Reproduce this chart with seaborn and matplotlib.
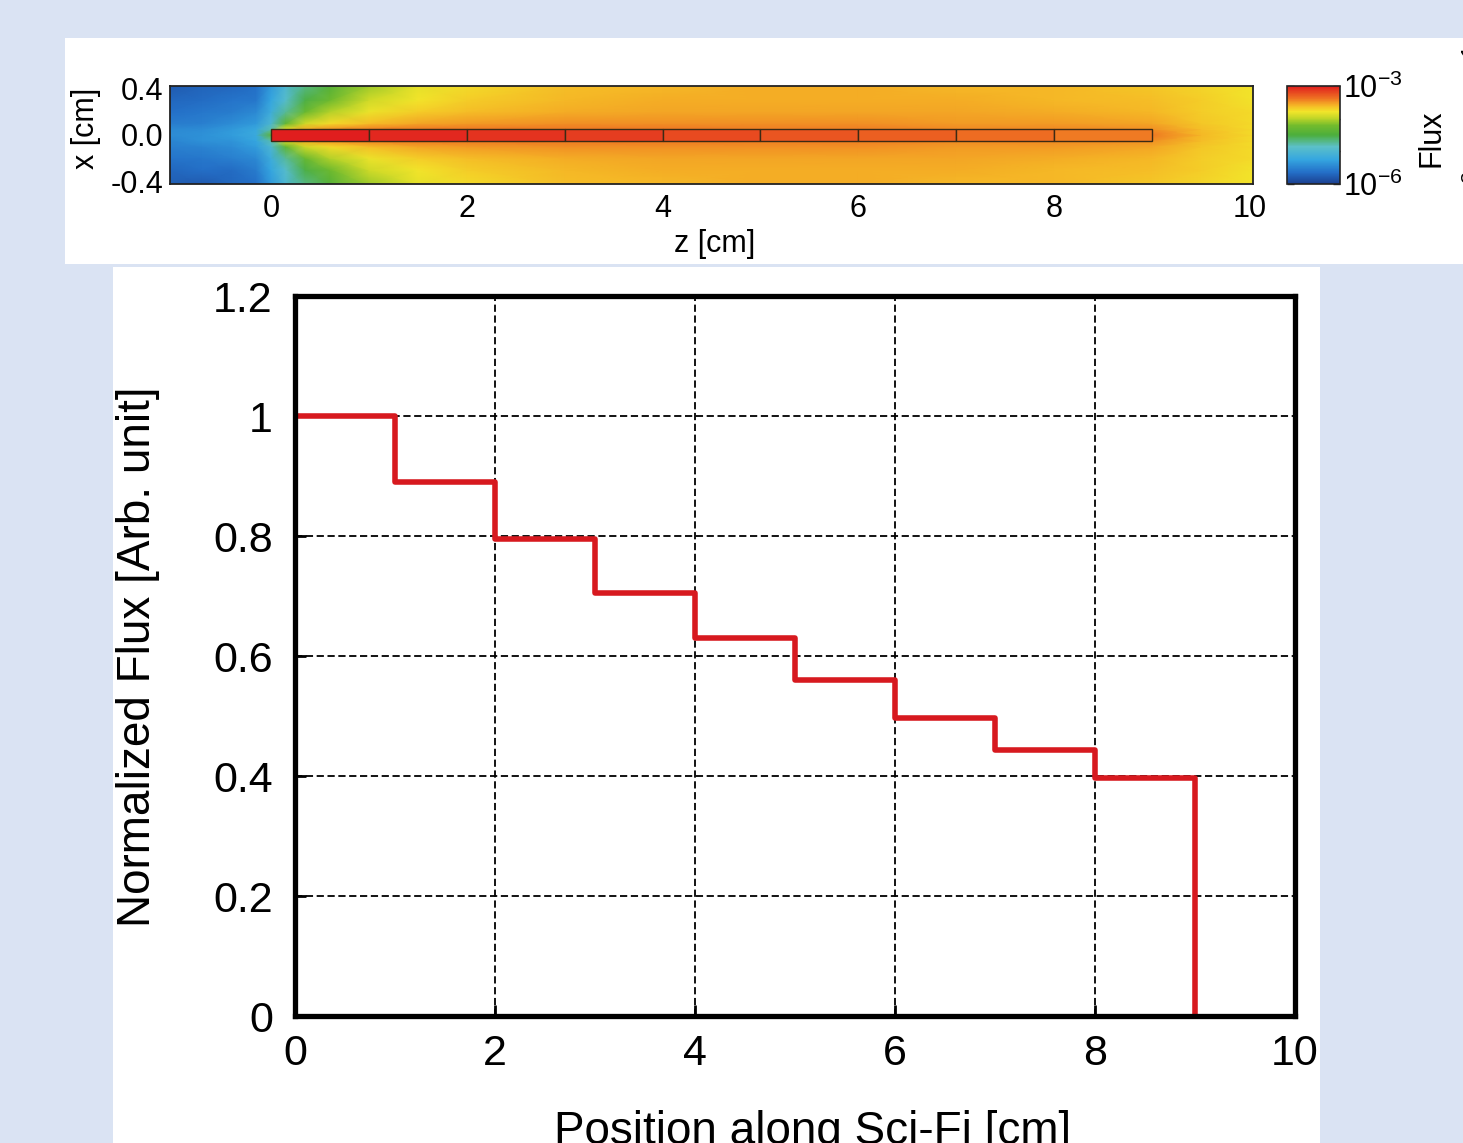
import numpy as np
import matplotlib
matplotlib.use("Agg")
import matplotlib.pyplot as plt
from matplotlib.colors import LinearSegmentedColormap, LogNorm
from matplotlib.patches import Rectangle
import seaborn as sns

# ---------------- data ----------------
# lower panel: normalized flux per 1-cm fiber segment (last value = end of fiber)
seg_pos = [0, 1, 2, 3, 4, 5, 6, 7, 8, 9]
seg_flux = [1.0, 0.89, 0.795, 0.705, 0.63, 0.56, 0.497, 0.443, 0.397, 0.0]
x_ticks = [0, 2, 4, 6, 8, 10]
y_ticks = [0, 0.2, 0.4, 0.6, 0.8, 1.0, 1.2]
y_tick_labels = ["0", "0.2", "0.4", "0.6", "0.8", "1", "1.2"]

# upper panel: flux map, position on colour scale (0 -> 1e-6, 1 -> 1e-3)
map_z = [-1.05, -0.7, -0.4, -0.15, 0.0, 0.15, 0.35, 0.6, 1.0, 1.5, 2, 3, 4, 5, 6, 7, 8, 9, 9.5, 10.05]
map_x = [-0.42, -0.3, -0.2, -0.1, -0.05, 0.0, 0.05, 0.1, 0.2, 0.3, 0.42]
map_level = [
    [0.08, 0.07, 0.10, 0.12, 0.22, 0.33, 0.44, 0.52, 0.64, 0.72, 0.75, 0.79, 0.80, 0.81, 0.81, 0.80, 0.80, 0.78, 0.76, 0.74],
    [0.10, 0.12, 0.11, 0.15, 0.25, 0.36, 0.49, 0.58, 0.69, 0.74, 0.77, 0.80, 0.81, 0.81, 0.81, 0.81, 0.80, 0.79, 0.77, 0.74],
    [0.13, 0.14, 0.16, 0.18, 0.28, 0.42, 0.57, 0.66, 0.73, 0.77, 0.79, 0.81, 0.82, 0.82, 0.82, 0.82, 0.81, 0.80, 0.77, 0.75],
    [0.16, 0.17, 0.19, 0.23, 0.33, 0.55, 0.69, 0.75, 0.79, 0.82, 0.83, 0.84, 0.84, 0.84, 0.84, 0.83, 0.83, 0.82, 0.78, 0.75],
    [0.17, 0.20, 0.21, 0.25, 0.40, 0.72, 0.81, 0.84, 0.86, 0.87, 0.87, 0.87, 0.87, 0.86, 0.86, 0.85, 0.85, 0.84, 0.79, 0.75],
    [0.19, 0.20, 0.23, 0.27, 0.55, 0.90, 0.93, 0.94, 0.95, 0.95, 0.94, 0.93, 0.92, 0.91, 0.90, 0.89, 0.88, 0.87, 0.80, 0.75],
    [0.18, 0.19, 0.22, 0.26, 0.40, 0.72, 0.81, 0.84, 0.86, 0.87, 0.87, 0.87, 0.87, 0.86, 0.86, 0.85, 0.85, 0.84, 0.79, 0.75],
    [0.15, 0.16, 0.19, 0.22, 0.33, 0.55, 0.69, 0.75, 0.79, 0.82, 0.83, 0.84, 0.84, 0.84, 0.84, 0.83, 0.83, 0.82, 0.78, 0.75],
    [0.12, 0.14, 0.15, 0.18, 0.28, 0.42, 0.57, 0.66, 0.73, 0.77, 0.79, 0.81, 0.82, 0.82, 0.82, 0.82, 0.81, 0.80, 0.77, 0.75],
    [0.10, 0.11, 0.13, 0.14, 0.25, 0.36, 0.49, 0.58, 0.69, 0.74, 0.77, 0.80, 0.81, 0.81, 0.81, 0.81, 0.80, 0.79, 0.77, 0.74],
    [0.07, 0.09, 0.10, 0.12, 0.22, 0.33, 0.44, 0.52, 0.64, 0.72, 0.75, 0.79, 0.80, 0.81, 0.81, 0.80, 0.80, 0.78, 0.76, 0.74],
]
fiber_half_width = 0.05
flux_max = 1e-3
flux_min = 1e-6

# ---------------- style ----------------
sns.set_theme(style="white")
plt.rcParams["font.family"] = ["Liberation Sans", "DejaVu Sans"]
plt.rcParams["mathtext.fontset"] = "custom"
plt.rcParams["mathtext.rm"] = "Liberation Sans"
plt.rcParams["mathtext.it"] = "Liberation Sans:italic"
plt.rcParams["mathtext.bf"] = "Liberation Sans:bold"
plt.rcParams["axes.unicode_minus"] = False
plt.rcParams["text.color"] = "black"
plt.rcParams["xtick.color"] = "black"
plt.rcParams["ytick.color"] = "black"
plt.rcParams["axes.labelcolor"] = "black"

W, H = 1463, 1143
fig = plt.figure(figsize=(W / 100, H / 100), dpi=100)
fig.patch.set_facecolor("#dae3f3")

def fx(px):
    return px / W

def fy(py):
    return 1 - py / H

# white panels (behind the axes)
fig.patches.append(Rectangle((fx(65), fy(264)), fx(1463 - 65), (264 - 38) / H,
                             transform=fig.transFigure, facecolor="white", edgecolor="none", zorder=-5))
fig.patches.append(Rectangle((fx(113), fy(1143)), fx(1320 - 113), (1143 - 267) / H,
                             transform=fig.transFigure, facecolor="white", edgecolor="none", zorder=-5))

# ---------------- top: flux map ----------------
cmap = LinearSegmentedColormap.from_list("flux", [
    (0.00, "#1b3f8f"), (0.12, "#2470c8"), (0.25, "#35a6e0"), (0.38, "#5cc0c8"),
    (0.50, "#4cae3c"), (0.60, "#74bc2c"), (0.68, "#c8d828"), (0.74, "#f2e52a"),
    (0.80, "#f5b826"), (0.88, "#ee6e22"), (1.00, "#e01e1e")])
norm = LogNorm(vmin=flux_min, vmax=flux_max)

ax_map = fig.add_axes([fx(170), fy(184), fx(1253 - 170), (184 - 86) / H])
Z, X = np.meshgrid(map_z, map_x)
field = flux_min * (flux_max / flux_min) ** np.array(map_level)
mesh = ax_map.pcolormesh(Z, X, field, shading="gouraud", cmap=cmap, norm=norm, rasterized=True)
for z0, v in zip(seg_pos[:-1], seg_flux[:-1]):
    ax_map.add_patch(Rectangle((z0, -fiber_half_width), 1, 2 * fiber_half_width,
                               facecolor=cmap(norm(v * flux_max)), edgecolor="#3b2a14", linewidth=1.0, zorder=3))
ax_map.set_xlim(-1.03, 10.03)
ax_map.set_ylim(-0.42, 0.42)
ax_map.set_xticks(range(0, 11))
ax_map.set_xticklabels([str(t) if t % 2 == 0 else "" for t in range(0, 11)])
ax_map.set_yticks([-0.4, 0.0, 0.4])
ax_map.set_yticklabels(["-0.4", "0.0", "0.4"])
ax_map.set_yticks(np.arange(-0.4, 0.41, 0.1), minor=True)
ax_map.tick_params(axis="both", which="both", direction="in", top=True, right=True,
                   length=6, width=1.3, color="#222222", labelsize=22)
ax_map.tick_params(axis="x", pad=7)
ax_map.tick_params(axis="y", pad=5)
for s in ax_map.spines.values():
    s.set_color("#222222")
    s.set_linewidth(1.3)
fig.text(fx(715), fy(244), "z [cm]", ha="center", va="center", fontsize=22)
fig.text(fx(86), fy(128), "x [cm]", ha="center", va="center", rotation=90, fontsize=22)

# colorbar
cax = fig.add_axes([fx(1287), fy(184), fx(1340 - 1287), (184 - 86) / H])
cb = fig.colorbar(mesh, cax=cax)
cb.set_ticks([1e-6, 1e-5, 1e-4, 1e-3])
cb.set_ticklabels(["10$^{-6}$", "", "", "10$^{-3}$"])
cb.minorticks_off()
cax.tick_params(which="both", direction="in", left=True, right=True, length=5, width=1.0,
                color="#333333", labelsize=22, pad=2)
cb.outline.set_linewidth(1.2)
cb.outline.set_edgecolor("#222222")
fig.text(fx(1431), fy(138), "Flux", ha="center", va="center", rotation=90, fontsize=22)
fig.text(fx(1489), fy(245), "[cm$^{-2}$ source$^{-1}$]", rotation=90, rotation_mode="anchor",
         ha="left", va="baseline", fontsize=22)

# ---------------- bottom: step profile ----------------
ax = fig.add_axes([fx(295), fy(1016), fx(1000), (1016 - 296) / H])
ax.set_facecolor("white")
ax.set_axisbelow(True)
ax.grid(True, color="black", linestyle=(0, (4, 2)), linewidth=1.3)
sns.lineplot(x=seg_pos, y=seg_flux, drawstyle="steps-post", color="#d7191f",
             linewidth=4, ax=ax, zorder=3)
ax.set_xlim(0, 10)
ax.set_ylim(0, 1.2)
ax.set_xticks(x_ticks)
ax.set_yticks(y_ticks)
ax.set_yticklabels(y_tick_labels)
ax.tick_params(axis="both", direction="in", length=8, width=2, color="black",
               labelsize=31, bottom=True, left=True, top=False, right=False)
ax.tick_params(axis="x", pad=13)
ax.tick_params(axis="y", pad=16)
for s in ax.spines.values():
    s.set_color("black")
    s.set_linewidth(3.8)
    s.set_zorder(4)
ax.set_xlabel("")
ax.set_ylabel("")
fig.text(fx(138), fy(657), "Normalized Flux [Arb. unit]", ha="center", va="center",
         rotation=90, fontsize=33)
fig.text(fx(813), -1 / H, "Position along Sci-Fi [cm]", ha="center", va="baseline", fontsize=33)

fig.savefig("out.png", dpi=100, facecolor=fig.get_facecolor())
